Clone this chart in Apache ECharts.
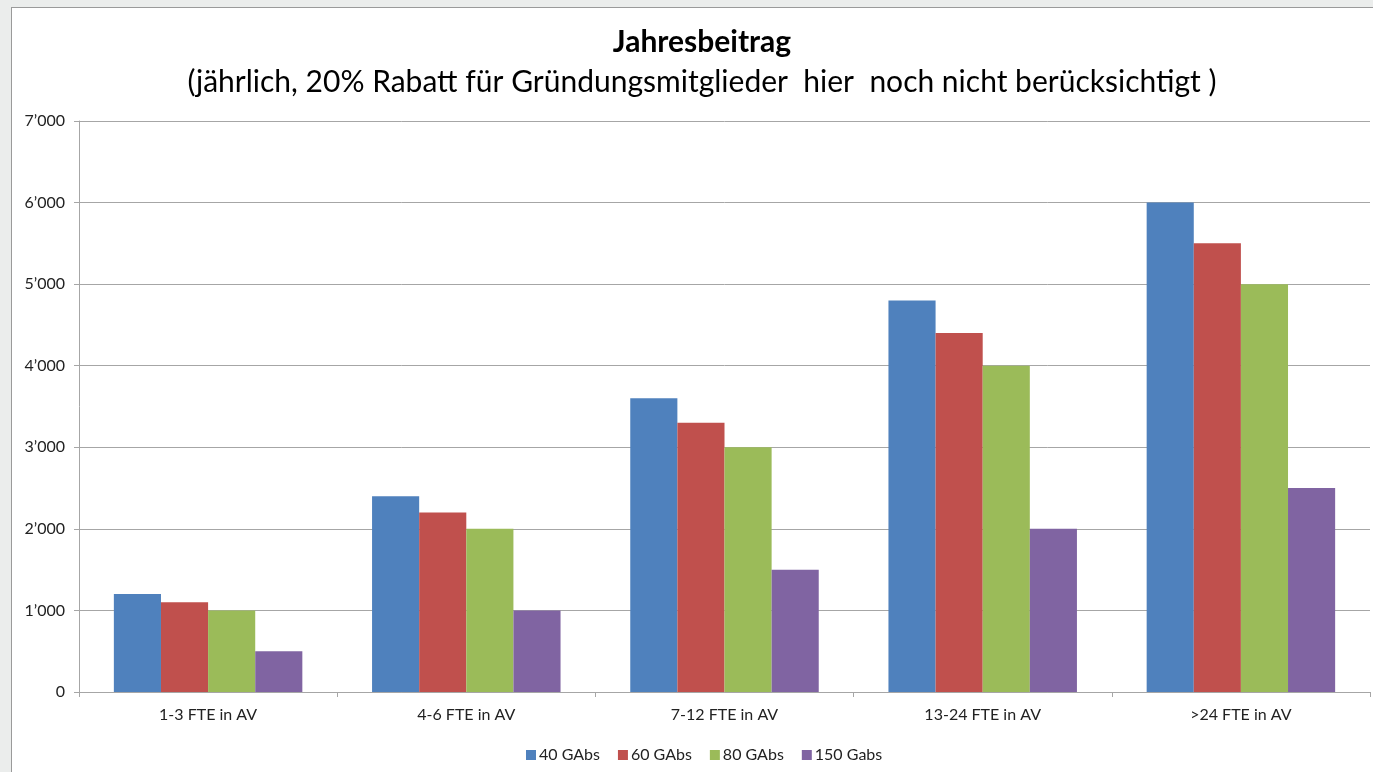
<!DOCTYPE html>
<html>
<head>
<meta charset="utf-8">
<script src="https://cdn.jsdelivr.net/npm/echarts@6/dist/echarts.min.js"></script>
<style>
  html, body { margin: 0; padding: 0; background: #ebedec; overflow: hidden; }
  #panel { position: absolute; left: 11px; top: 7px; width: 1400px; height: 800px;
           background: #fff; border: 1px solid #9a9a9a; }
  #main { position: absolute; left: 0; top: 0; width: 1373px; height: 772px; }
</style>
</head>
<body>
<div id="panel"></div>
<div id="main"></div>
<script>
var categories = ['1-3 FTE in AV', '4-6 FTE in AV', '7-12 FTE in AV', '13-24 FTE in AV', '>24 FTE in AV'];
var seriesNames = ['40 GAbs', '60 GAbs', '80 GAbs', '150 Gabs'];
var gabs40 = [1200, 2400, 3600, 4800, 6000];
var gabs60 = [1100, 2200, 3300, 4400, 5500];
var gabs80 = [1000, 2000, 3000, 4000, 5000];
var gabs150 = [500, 1000, 1500, 2000, 2500];
var colors = ['#4f81bd', '#c0504d', '#9bbb59', '#8064a2'];

var font = 'Lato, "Liberation Sans", sans-serif';

function fmt(v) {
    // Schweizer Tausendertrennzeichen
    var s = String(v);
    return s.replace(/\B(?=(\d{3})+(?!\d))/g, '\u2019');
}

var myChart = echarts.init(document.getElementById('main'));
var data = [gabs40, gabs60, gabs80, gabs150];

myChart.setOption({
    animation: false,
    textStyle: { fontFamily: font },
    title: {
        text: 'Jahresbeitrag',
        subtext: '(jährlich, 20% Rabatt für Gründungsmitglieder  hier  noch nicht berücksichtigt )',
        left: 697,
        top: 22,
        textAlign: 'center',
        itemGap: 10,
        textStyle: { fontFamily: font, fontSize: 30, fontWeight: 'bold', color: '#000' },
        subtextStyle: { fontFamily: font, fontSize: 30, color: '#000' }
    },
    legend: {
        data: seriesNames,
        left: 521,
        top: 742,
        icon: 'rect',
        itemWidth: 10,
        itemHeight: 10,
        itemGap: 18,
        textStyle: { fontFamily: font, fontSize: 16, color: '#222', padding: [0, 0, 0, -2] }
    },
    grid: { left: 79, right: 3, top: 121, bottom: 80, containLabel: false },
    xAxis: {
        type: 'category',
        data: categories,
        axisLine: { lineStyle: { color: '#a6a6a6', width: 1 } },
        axisTick: { show: true, alignWithLabel: false, length: 5, lineStyle: { color: '#a6a6a6' } },
        axisLabel: { fontFamily: font, fontSize: 16, color: '#222', margin: 15 }
    },
    yAxis: {
        type: 'value',
        min: 0,
        max: 7000,
        interval: 1000,
        axisLine: { show: true, lineStyle: { color: '#a6a6a6' } },
        axisTick: { show: true, length: 5, lineStyle: { color: '#a6a6a6' } },
        axisLabel: { fontFamily: font, fontSize: 16, color: '#222', margin: 14, formatter: fmt },
        splitLine: { lineStyle: { color: '#a6a6a6' } }
    },
    series: seriesNames.map(function (name, i) {
        return {
            name: name,
            type: 'bar',
            data: data[i],
            barGap: '0%',
            barCategoryGap: '27%',
            itemStyle: { color: colors[i] }
        };
    })
});
</script>
</body>
</html>
